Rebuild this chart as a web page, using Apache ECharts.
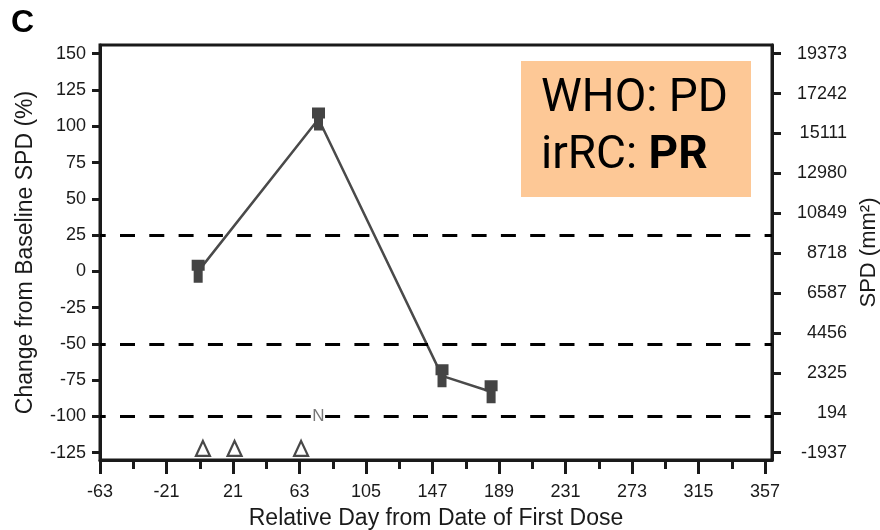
<!DOCTYPE html>
<html>
<head>
<meta charset="utf-8">
<script src="https://cdn.jsdelivr.net/npm/echarts@6/dist/echarts.min.js"></script>
<style>
  html, body { margin: 0; padding: 0; background: #fff; }
  #chart { width: 880px; height: 530px; }
</style>
</head>
<body>
<div id="chart"></div>
<script>
// Tumour burden (sum of product of diameters) relative to baseline, by study day
const scanDays = [-1, 75, 153, 184];
const changePct = [0, 105, -72, -83];

// Dosing days, drawn as open triangles along the bottom
const doseDays = [2, 22, 64];
const doseLevel = [-122, -122, -122];

// New lesion flag
const newLesionDays = [75];
const newLesionLevel = [-100];
const newLesionText = 'N';

// Response thresholds (%)
const thresholds = [25, -50, -100];

// Axis ticks
const dayTicks = [-63, -21, 21, 63, 105, 147, 189, 231, 273, 315, 357];
const dayMinorTicks = [-42, 0, 42, 84, 126, 168, 210, 252, 294, 336];
const pctTicks = [150, 125, 100, 75, 50, 25, 0, -25, -50, -75, -100, -125];
const spdTicks = [19373, 17242, 15111, 12980, 10849, 8718, 6587, 4456, 2325, 194, -1937];
const baselineSPD = 7749.2;

// Axis extents
const dayMin = -63, dayMax = 361.4;
const pctMin = -130, pctMax = 156;
const spdMin = baselineSPD * (1 + pctMin / 100);
const spdMax = baselineSPD * (1 + pctMax / 100);

const FONT = 'Liberation Sans, Arial, Helvetica, sans-serif';
const INK = '#1a1a1a';
const MARK = '#444444';

// Square marker sitting on a narrower stem
const stemSquare = 'path://M0,0 H13 V11 H11 V23 H2 V11 H0 Z';

const plain = v => String(v);

const chart = echarts.init(document.getElementById('chart'), null, { renderer: 'canvas' });

chart.setOption({
  animation: false,
  backgroundColor: '#fff',
  grid: {
    left: 100, right: 108, top: 45, bottom: 70,
    outerBoundsMode: 'none',
    containLabel: false,
    show: true, borderColor: INK, borderWidth: 3, backgroundColor: 'transparent'
  },
  xAxis: [
    {
      type: 'value', min: dayMin, max: dayMax, position: 'bottom',
      name: 'Relative Day from Date of First Dose',
      nameLocation: 'middle', nameGap: 47,
      nameTextStyle: { fontFamily: FONT, fontSize: 23, color: INK },
      axisLine: { show: true, onZero: false, lineStyle: { color: INK, width: 3 } },
      axisTick: { show: true, customValues: dayTicks, length: 14, lineStyle: { color: INK, width: 3 } },
      axisLabel: { show: true, customValues: dayTicks, formatter: plain, margin: 23, fontFamily: FONT, fontSize: 18, color: INK },
      splitLine: { show: false }
    },
    {
      type: 'value', min: dayMin, max: dayMax, position: 'bottom', gridIndex: 0,
      axisLine: { show: false, onZero: false },
      axisTick: { show: true, customValues: dayMinorTicks, length: 9, lineStyle: { color: INK, width: 3 } },
      axisLabel: { show: false },
      splitLine: { show: false }
    }
  ],
  yAxis: [
    {
      type: 'value', min: pctMin, max: pctMax, position: 'left',
      name: 'Change from Baseline SPD (%)',
      nameLocation: 'middle', nameGap: 63,
      nameTextStyle: { fontFamily: FONT, fontSize: 23, color: INK },
      axisLine: { show: true, onZero: false, lineStyle: { color: INK, width: 3 } },
      axisTick: { show: true, customValues: pctTicks, length: 8, lineStyle: { color: INK, width: 3 } },
      axisLabel: { show: true, customValues: pctTicks, formatter: plain, margin: 14, fontFamily: FONT, fontSize: 18, color: INK },
      splitLine: { show: false }
    },
    {
      type: 'value', min: spdMin, max: spdMax, position: 'right',
      name: 'SPD (mm\u00B2)',
      nameLocation: 'middle', nameGap: 83, nameRotate: 90,
      nameTextStyle: { fontFamily: FONT, fontSize: 22, color: INK },
      axisLine: { show: true, onZero: false, lineStyle: { color: INK, width: 3 } },
      axisTick: { show: true, customValues: spdTicks, length: 9, lineStyle: { color: INK, width: 3 } },
      axisLabel: { show: true, customValues: spdTicks, formatter: plain, margin: 75, align: 'right', fontFamily: FONT, fontSize: 18, color: INK },
      splitLine: { show: false }
    }
  ],
  series: [
    {
      type: 'line',
      xAxisIndex: 0, yAxisIndex: 0,
      data: scanDays.map((d, i) => [d, changePct[i]]),
      symbol: stemSquare,
      symbolSize: [13, 23],
      itemStyle: { color: MARK },
      lineStyle: { color: '#4a4a4a', width: 2.5 },
      z: 3,
      markLine: {
        silent: true,
        symbol: ['none', 'none'],
        label: { show: false },
        lineStyle: { color: '#000', width: 3, type: [15, 14.3], dashOffset: 9.3 },
        emphasis: { disabled: true },
        data: thresholds.map(v => ({ yAxis: v }))
      }
    },
    {
      type: 'scatter',
      xAxisIndex: 0, yAxisIndex: 0,
      data: doseDays.map((d, i) => [d, doseLevel[i]]),
      symbol: 'triangle',
      symbolSize: [14, 15],
      itemStyle: { color: '#fff', borderColor: INK, borderWidth: 2.2 },
      z: 4
    },
    {
      type: 'scatter',
      xAxisIndex: 0, yAxisIndex: 0,
      data: newLesionDays.map((d, i) => [d, newLesionLevel[i]]),
      symbol: 'rect',
      symbolSize: 1,
      itemStyle: { color: 'rgba(0,0,0,0)' },
      label: {
        show: true, position: 'inside', formatter: newLesionText,
        fontFamily: FONT, fontSize: 17, color: '#555'
      },
      z: 5
    }
  ],
  graphic: [
    {
      type: 'text', left: 11, top: 7,
      style: { text: 'C', font: 'bold 32px ' + FONT, fill: '#000' }
    },
    {
      type: 'rect',
      shape: { x: 521, y: 61, width: 230, height: 136 },
      style: { fill: '#FDC896' }
    },
    {
      type: 'text', x: 541, y: 99.5,
      style: {
        text: 'WHO: PD', fontFamily: 'Roboto', fontSize: 46, fill: '#000',
        verticalAlign: 'middle', align: 'left'
      }
    },
    {
      type: 'text', x: 541, y: 156,
      style: {
        text: '{n|irRC: }{b|PR}',
        verticalAlign: 'middle', align: 'left',
        rich: {
          n: { fontFamily: 'Roboto', fontSize: 46, color: '#000' },
          b: { fontFamily: 'Roboto', fontSize: 46, fontWeight: 'bold', color: '#000' }
        }
      }
    }
  ]
});
</script>
</body>
</html>
